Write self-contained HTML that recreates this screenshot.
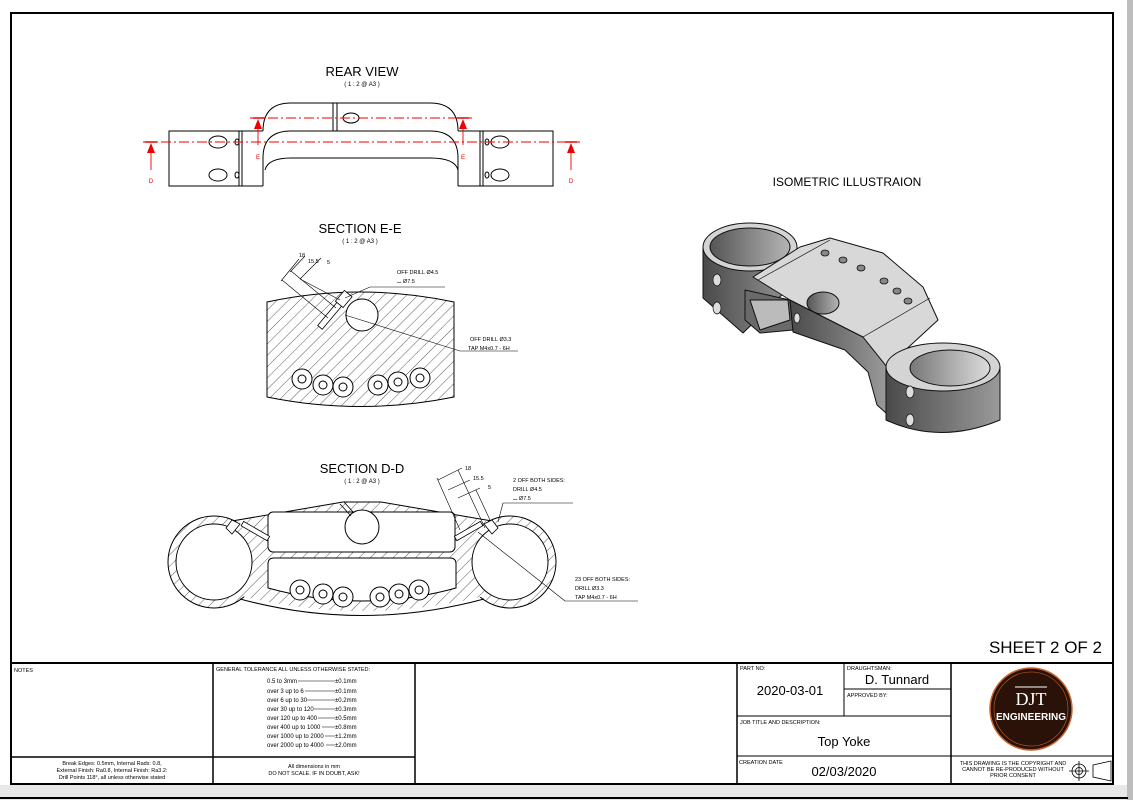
<!DOCTYPE html>
<html><head><meta charset="utf-8"><style>
html,body{margin:0;padding:0;background:#fff;}
svg{display:block;font-family:"Liberation Sans",sans-serif;}
</style></head><body>
<svg width="1133" height="800" viewBox="0 0 1133 800" xmlns="http://www.w3.org/2000/svg">
<defs>
<pattern id="h" patternUnits="userSpaceOnUse" width="8" height="8" patternTransform="rotate(45)">
<rect width="8" height="8" fill="#fff"/><line x1="0" y1="0" x2="0" y2="8" stroke="#333" stroke-width="0.8"/>
</pattern>
<linearGradient id="g1" x1="0" x2="1"><stop offset="0" stop-color="#4a4a4a"/><stop offset="1" stop-color="#9a9a9a"/></linearGradient>
<linearGradient id="g2" x1="0" x2="1"><stop offset="0" stop-color="#555"/><stop offset="1" stop-color="#b5b5b5"/></linearGradient>
<linearGradient id="g3" x1="0" x2="1"><stop offset="0" stop-color="#777"/><stop offset="1" stop-color="#ddd"/></linearGradient>
</defs>
<rect x="0" y="0" width="1133" height="800" fill="#fff"/>
<rect x="0" y="785" width="1128" height="15" fill="#e8e8e8"/>
<rect x="1127" y="0" width="6" height="800" fill="#bdbdbd"/>
<line x1="0" y1="798" x2="1128" y2="798" stroke="#000" stroke-width="2"/>
<rect x="11" y="13" width="1102" height="771" fill="#fff" stroke="#000" stroke-width="2"/>

<!-- REAR VIEW -->
<text x="362" y="76" font-size="13" text-anchor="middle">REAR VIEW</text>
<text x="362" y="86" font-size="6" text-anchor="middle">( 1 : 2 @ A3 )</text>
<g fill="none" stroke="#000" stroke-width="1">
<path d="M263,131 L169,131 L169,186 L263,186"/>
<path d="M458,131 L553,131 L553,186 L458,186"/>
<line x1="239" y1="131" x2="239" y2="186"/><line x1="242" y1="131" x2="242" y2="186"/>
<line x1="480" y1="131" x2="480" y2="186"/><line x1="483" y1="131" x2="483" y2="186"/>
<path d="M263,131 Q263,103 291,103 L430,103 Q458,103 458,131"/>
<path d="M263,186 L263,158 Q263,131 291,131 L430,131 Q458,131 458,158 L458,186"/>
<path d="M265,170 Q268,158 291,158 L430,158 Q455,158 458,170"/>
<line x1="333" y1="103" x2="333" y2="131"/><line x1="337" y1="103" x2="337" y2="131"/>
<ellipse cx="351" cy="118" rx="8" ry="5"/>
<ellipse cx="218" cy="142" rx="9" ry="6"/><ellipse cx="218" cy="175" rx="9" ry="6"/>
<ellipse cx="500" cy="142" rx="9" ry="6"/><ellipse cx="500" cy="175" rx="9" ry="6"/>
<ellipse cx="237" cy="142" rx="2" ry="3"/><ellipse cx="237" cy="175" rx="2" ry="3"/>
<ellipse cx="487" cy="142" rx="2" ry="3"/><ellipse cx="487" cy="175" rx="2" ry="3"/>
</g>
<g stroke="#e00" fill="none" stroke-width="0.9">
<line x1="250" y1="118" x2="472" y2="118" stroke-dasharray="10,3,2,3"/>
<line x1="143" y1="142" x2="580" y2="142" stroke-dasharray="10,3,2,3"/>
<line x1="253" y1="118" x2="265" y2="118" stroke-width="1.5"/><line x1="457" y1="118" x2="469" y2="118" stroke-width="1.5"/>
<line x1="145" y1="142" x2="157" y2="142" stroke-width="1.5"/><line x1="565" y1="142" x2="577" y2="142" stroke-width="1.5"/>
<line x1="258" y1="122" x2="258" y2="145"/><line x1="463" y1="122" x2="463" y2="145"/>
<line x1="151" y1="146" x2="151" y2="170"/><line x1="571" y1="146" x2="571" y2="170"/>
</g>
<g fill="#e00">
<path d="M258,119 l-4,10 h8z"/><path d="M463,119 l-4,10 h8z"/>
<path d="M151,143 l-4,10 h8z"/><path d="M571,143 l-4,10 h8z"/>
<text x="258" y="159" font-size="6" text-anchor="middle">E</text><text x="463" y="159" font-size="6" text-anchor="middle">E</text>
<text x="151" y="183" font-size="6" text-anchor="middle">D</text><text x="571" y="183" font-size="6" text-anchor="middle">D</text>
</g>

<!-- SECTION E-E -->
<text x="360" y="233" font-size="13" text-anchor="middle">SECTION E-E</text>
<text x="360" y="243" font-size="6" text-anchor="middle">( 1 : 2 @ A3 )</text>
<path d="M267,302 Q360,282 454,302 L454,397 Q360,416 267,397 Z" fill="url(#h)" stroke="#000" stroke-width="1"/>
<circle cx="362" cy="315" r="16" fill="#fff" stroke="#000"/>
<g transform="rotate(-50 340 305)"><rect x="310" y="301" width="36" height="6" fill="#fff" stroke="#000" stroke-width="0.8"/><rect x="340" y="299" width="14" height="10" fill="#fff" stroke="#000" stroke-width="0.8"/></g>
<g fill="#fff" stroke="#000" stroke-width="1">
<circle cx="302" cy="379" r="10"/><circle cx="302" cy="379" r="4"/>
<circle cx="323" cy="385" r="10"/><circle cx="323" cy="385" r="4"/>
<circle cx="343" cy="387" r="10"/><circle cx="343" cy="387" r="4"/>
<circle cx="378" cy="385" r="10"/><circle cx="378" cy="385" r="4"/>
<circle cx="398" cy="382" r="10"/><circle cx="398" cy="382" r="4"/>
<circle cx="420" cy="378" r="10"/><circle cx="420" cy="378" r="4"/>
</g>
<g stroke="#000" stroke-width="0.6" fill="none">
<line x1="282" y1="280" x2="328" y2="318"/><line x1="291" y1="271" x2="336" y2="308"/><line x1="300" y1="279" x2="340" y2="300"/>
<line x1="281" y1="281" x2="299" y2="259"/><line x1="290" y1="272" x2="305" y2="256"/><line x1="300" y1="279" x2="321" y2="258"/>
<line x1="345" y1="298" x2="370" y2="287"/><line x1="370" y1="287" x2="445" y2="287"/>
<line x1="345" y1="315" x2="460" y2="351"/><line x1="460" y1="351" x2="518" y2="351"/>
</g>
<g font-size="5.5" fill="#000">
<text x="299" y="257">18</text><text x="308" y="263">15.5</text><text x="327" y="264">5</text>
<text x="397" y="274">OFF DRILL Ø4.5</text><text x="397" y="283">⌴ Ø7.5</text>
<text x="470" y="341">OFF DRILL Ø3.3</text><text x="468" y="350">TAP M4x0.7 - 6H</text>
</g>

<!-- SECTION D-D -->
<text x="362" y="473" font-size="13" text-anchor="middle">SECTION D-D</text>
<text x="362" y="483" font-size="6" text-anchor="middle">( 1 : 2 @ A3 )</text>
<circle cx="214" cy="562" r="46" fill="url(#h)" stroke="#000"/>
<circle cx="510" cy="562" r="46" fill="url(#h)" stroke="#000"/>
<path d="M232,522 L343,502 L381,502 L492,522 L500,540 L500,592 Q362,630 226,592 L224,540 Z" fill="url(#h)"/>
<path d="M232,521 L343,502 L381,502 L492,521" fill="none" stroke="#000"/>
<path d="M240,599 Q362,632 484,599" fill="none" stroke="#000"/>
<circle cx="214" cy="562" r="38" fill="#fff" stroke="#000"/>
<circle cx="510" cy="562" r="38" fill="#fff" stroke="#000"/>
<rect x="268" y="512" width="187" height="40" rx="5" fill="#fff" stroke="#000"/>
<path d="M274,558 H450 Q456,558 456,564 V588 Q362,614 268,588 V564 Q268,558 274,558Z" fill="#fff" stroke="#000"/>
<circle cx="362" cy="527" r="17" fill="#fff" stroke="#000"/>
<path d="M340,504 L351,516 M344,502 L354,513" stroke="#000" fill="none" stroke-width="0.8"/>
<g fill="#fff" stroke="#000" stroke-width="0.8">
<path d="M232,520 L240,524 L232,534 L226,528Z"/><path d="M492,520 L484,524 L492,534 L498,528Z"/>
<g transform="rotate(30 256 532)"><rect x="240" y="529" width="30" height="5"/></g>
<g transform="rotate(-30 468 532)"><rect x="454" y="529" width="30" height="5"/></g>
</g>
<g fill="#fff" stroke="#000" stroke-width="1">
<circle cx="300" cy="590" r="10"/><circle cx="300" cy="590" r="4"/>
<circle cx="323" cy="594" r="10"/><circle cx="323" cy="594" r="4"/>
<circle cx="343" cy="597" r="10"/><circle cx="343" cy="597" r="4"/>
<circle cx="380" cy="597" r="10"/><circle cx="380" cy="597" r="4"/>
<circle cx="399" cy="594" r="10"/><circle cx="399" cy="594" r="4"/>
<circle cx="419" cy="590" r="10"/><circle cx="419" cy="590" r="4"/>
</g>
<g stroke="#000" stroke-width="0.6" fill="none">
<line x1="437" y1="478" x2="460" y2="530"/><line x1="458" y1="470" x2="485" y2="528"/><line x1="476" y1="490" x2="490" y2="520"/>
<line x1="438" y1="480" x2="462" y2="468"/><line x1="448" y1="490" x2="470" y2="480"/><line x1="458" y1="498" x2="480" y2="488"/>
<line x1="498" y1="522" x2="503" y2="503"/><line x1="503" y1="503" x2="573" y2="503"/>
<line x1="478" y1="532" x2="565" y2="601"/><line x1="565" y1="601" x2="638" y2="601"/>
</g>
<g font-size="5.5" fill="#000">
<text x="465" y="470">18</text><text x="473" y="480">15.5</text><text x="488" y="489">5</text>
<text x="513" y="482">2 OFF BOTH SIDES:</text><text x="513" y="491">DRILL Ø4.5</text><text x="513" y="500">⌴ Ø7.5</text>
<text x="575" y="581">23 OFF BOTH SIDES:</text><text x="575" y="590">DRILL Ø3.3</text><text x="575" y="599">TAP M4x0.7 - 6H</text>
</g>

<!-- ISOMETRIC -->
<text x="847" y="186" font-size="12" text-anchor="middle">ISOMETRIC ILLUSTRAION</text>
<g stroke="#111" stroke-width="1" stroke-linejoin="round">
<path d="M703,247 L703,298 L743,333 L797,280 L797,247 Z" fill="url(#g1)"/>
<path d="M745,290 L790,300 L793,330 L760,333 L745,320Z" fill="#6a6a6a"/>
<path d="M750,300 L788,300 L790,320 L760,330Z" fill="#bbb"/>
<ellipse cx="750" cy="247" rx="47" ry="24" fill="#d4d4d4"/>
<ellipse cx="750" cy="247" rx="40" ry="19" fill="url(#g2)"/>
<path d="M790,300 L863,337 L887,367 L886,413 L877,405 L868,372 L845,350 L793,332Z" fill="url(#g1)"/>
<path d="M753,277 L800,247 L830,238 L883,253 L923,287 L938,320 L887,367 L863,337 L790,300 Z" fill="#d8d8d8"/>
<path d="M886,367 L886,420 Q940,445 1000,420 L1000,367Z" fill="url(#g1)"/>
<ellipse cx="943" cy="367" rx="57" ry="24" fill="#d4d4d4"/>
<ellipse cx="950" cy="368" rx="40" ry="18" fill="url(#g3)"/>
<ellipse cx="823" cy="303" rx="16" ry="11" fill="url(#g2)"/>
<g fill="#888" stroke-width="0.8">
<ellipse cx="825" cy="253" rx="4" ry="3"/><ellipse cx="843" cy="260" rx="4" ry="3"/><ellipse cx="861" cy="268" rx="4" ry="3"/>
<ellipse cx="884" cy="281" rx="4" ry="3"/><ellipse cx="897" cy="291" rx="4" ry="3"/><ellipse cx="908" cy="301" rx="4" ry="3"/>
</g>
<line x1="758" y1="280" x2="830" y2="240" stroke-width="0.7"/>
<line x1="863" y1="337" x2="930" y2="298" stroke-width="0.7"/>
<ellipse cx="717" cy="280" rx="4" ry="6" fill="#ddd" stroke-width="0.7"/><ellipse cx="717" cy="308" rx="4" ry="6" fill="#ddd" stroke-width="0.7"/>
<ellipse cx="797" cy="318" rx="3" ry="5" fill="#ddd" stroke-width="0.7"/>
<ellipse cx="910" cy="392" rx="4" ry="6" fill="#ddd" stroke-width="0.7"/><ellipse cx="910" cy="420" rx="4" ry="6" fill="#ddd" stroke-width="0.7"/>
</g>

<text x="1102" y="653" font-size="17" text-anchor="end">SHEET 2 OF 2</text>

<!-- TITLE BLOCK -->
<g stroke="#000" fill="none">
<line x1="11" y1="663" x2="1113" y2="663" stroke-width="2"/>
<line x1="213" y1="663" x2="213" y2="784" stroke-width="1.5"/>
<line x1="415" y1="663" x2="415" y2="784" stroke-width="1.5"/>
<line x1="11" y1="757" x2="415" y2="757" stroke-width="1.5"/>
<line x1="737" y1="663" x2="737" y2="784" stroke-width="1.5"/>
<line x1="951" y1="663" x2="951" y2="784" stroke-width="1.5"/>
<line x1="844" y1="663" x2="844" y2="716" stroke-width="1"/>
<line x1="844" y1="689" x2="951" y2="689" stroke-width="1"/>
<line x1="737" y1="716" x2="951" y2="716" stroke-width="1"/>
<line x1="737" y1="756" x2="1113" y2="756" stroke-width="1"/>
</g>
<g font-size="5.5" fill="#000">
<text x="14" y="672">NOTES</text>
<text x="216" y="671">GENERAL TOLERANCE ALL UNLESS OTHERWISE STATED:</text>
<text x="740" y="670">PART NO:</text><text x="847" y="670">DRAUGHTSMAN:</text>
<text x="847" y="697">APPROVED BY:</text><text x="740" y="724">JOB TITLE AND DESCRIPTION:</text>
<text x="739" y="764">CREATION DATE</text>
<text x="112" y="765" text-anchor="middle">Break Edges: 0.5mm, Internal Rads: 0.8,</text>
<text x="112" y="772" text-anchor="middle">External Finish: Ra0.8, Internal Finish: Ra3.2:</text>
<text x="112" y="779" text-anchor="middle">Drill Points 118°, all unless otherwise stated</text>
<text x="314" y="768" text-anchor="middle">All dimensions in mm</text>
<text x="314" y="775" text-anchor="middle">DO NOT SCALE. IF IN DOUBT, ASK!</text>
<text x="1013" y="765" text-anchor="middle">THIS DRAWING IS THE COPYRIGHT AND</text>
<text x="1013" y="771" text-anchor="middle">CANNOT BE RE-PRODUCED WITHOUT</text>
<text x="1013" y="777" text-anchor="middle">PRIOR CONSENT</text>
</g>
<g font-size="6" fill="#000">
<text x="267" y="683">0.5 to 3mm</text><text x="267" y="693">over 3 up to 6</text><text x="267" y="702">over 6 up to 30</text>
<text x="267" y="711">over 30 up to 120</text><text x="267" y="720">over 120 up to 400</text><text x="267" y="729">over 400 up to 1000</text>
<text x="267" y="738">over 1000 up to 2000</text><text x="267" y="747">over 2000 up to 4000</text>
<text x="335" y="683">±0.1mm</text><text x="335" y="693">±0.1mm</text><text x="335" y="702">±0.2mm</text><text x="335" y="711">±0.3mm</text>
<text x="335" y="720">±0.5mm</text><text x="335" y="729">±0.8mm</text><text x="335" y="738">±1.2mm</text><text x="335" y="747">±2.0mm</text>
</g>
<g stroke="#000" stroke-width="0.5">
<line x1="298" y1="681" x2="335" y2="681"/><line x1="305" y1="691" x2="335" y2="691"/><line x1="307" y1="700" x2="335" y2="700"/>
<line x1="314" y1="709" x2="335" y2="709"/><line x1="318" y1="718" x2="335" y2="718"/><line x1="322" y1="727" x2="335" y2="727"/>
<line x1="325" y1="736" x2="335" y2="736"/><line x1="326" y1="745" x2="335" y2="745"/>
</g>
<g font-size="13" fill="#000" text-anchor="middle">
<text x="790" y="695">2020-03-01</text>
<text x="897" y="684">D. Tunnard</text>
<text x="844" y="746">Top Yoke</text>
<text x="844" y="776">02/03/2020</text>
</g>
<circle cx="1031" cy="709" r="41" fill="#2a1208" stroke="#c8642a" stroke-width="1.5"/>
<circle cx="1031" cy="709" r="37" fill="none" stroke="#c8642a" stroke-width="0.6"/>
<line x1="1015" y1="687" x2="1047" y2="687" stroke="#fff" stroke-width="1"/>
<text x="1031" y="705" font-size="18" fill="#fff" text-anchor="middle" font-family="Liberation Serif,serif">DJT</text>
<text x="1031" y="720" font-size="10" fill="#fff" text-anchor="middle" font-weight="bold">ENGINEERING</text>
<g stroke="#000" fill="none" stroke-width="0.8">
<circle cx="1079" cy="771" r="7"/><circle cx="1079" cy="771" r="3.5"/>
<line x1="1069" y1="771" x2="1089" y2="771"/><line x1="1079" y1="761" x2="1079" y2="781"/>
<path d="M1093,765 L1111,761 L1111,781 L1093,777Z"/>
</g>
</svg>
</body></html>
